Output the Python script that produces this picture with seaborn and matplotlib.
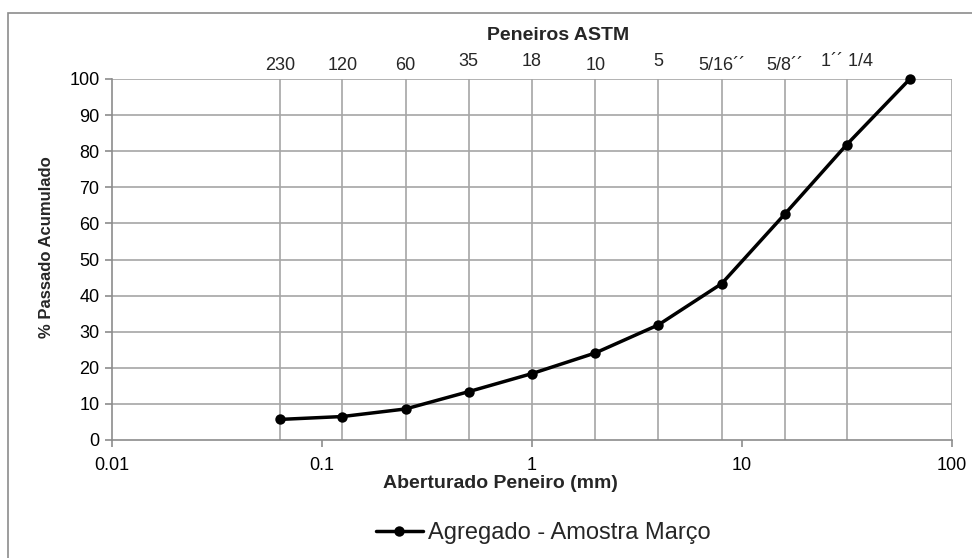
import matplotlib
matplotlib.use("Agg")
import matplotlib.pyplot as plt
import matplotlib.transforms as mtransforms
import seaborn as sns
import pandas as pd
from matplotlib.patches import Rectangle
from matplotlib.ticker import FixedLocator, NullLocator

# Sieve openings (mm) and cumulative passing (%)
abertura = [0.063, 0.125, 0.25, 0.5, 1.0, 2.0, 4.0, 8.0, 16.0, 31.5, 63.0]
passado = [5.7, 6.5, 8.6, 13.4, 18.4, 24.1, 31.9, 43.3, 62.6, 81.8, 100.0]

# ASTM sieve designations shown above the plot
peneiros_pos = [0.063, 0.125, 0.25, 0.5, 1.0, 2.0, 4.0, 8.0, 16.0, 31.5]
peneiros_lbl = ["230", "120", "60", "35", "18", "10", "5", "5/16´´", "5/8´´", "1´´ 1/4"]
peneiros_alto = [False, False, False, True, True, False, True, False, False, True]

serie = "Agregado - Amostra Março"

sns.set_theme(style="white")
plt.rcParams["font.family"] = ["Liberation Sans", "DejaVu Sans"]

fig = plt.figure(figsize=(9.72, 5.58), dpi=100)
ax = fig.add_axes([112 / 972, 1 - 440 / 558, 840 / 972, 361 / 558])

df = pd.DataFrame({"x": abertura, "y": passado, "s": serie})
sns.lineplot(data=df, x="x", y="y", hue="s", palette=["black"], marker="o",
             markersize=7.5, linewidth=2.5, markeredgewidth=0, ax=ax)
for ln in ax.lines:
    ln.set_clip_on(False)
    ln.set_zorder(5)

ax.set_xscale("log")
ax.set_xlim(0.01, 100)
ax.set_ylim(0, 100)
ax.set_yticks(range(0, 101, 10))
ax.xaxis.set_major_locator(FixedLocator([0.01, 0.1, 1, 10, 100]))
ax.xaxis.set_minor_locator(NullLocator())
ax.set_xticklabels(["0.01", "0.1", "1", "10", "100"])

grid_col = "#a6a6a6"
for y in range(10, 101, 10):
    ax.axhline(y, color=grid_col, lw=1.2, zorder=0)
for x in peneiros_pos + [100]:
    ax.axvline(x, color=grid_col, lw=1.2, zorder=0)

for side in ["top", "right"]:
    ax.spines[side].set_visible(False)
for side in ["left", "bottom"]:
    ax.spines[side].set_color("#8c8c8c")
    ax.spines[side].set_linewidth(1.2)

ax.tick_params(axis="both", which="major", direction="out", length=5, width=1.2,
               color="#8c8c8c", labelsize=13, labelcolor="black", pad=4,
               left=True, bottom=True)
ax.tick_params(axis="x", pad=7)

ax.set_xlabel("Aberturado Peneiro (mm)", fontsize=14, fontweight="bold")
ax.xaxis.set_label_coords((500 - 112) / 840, (440 - 484) / 361)
ax.xaxis.label.set_va("center")
ax.set_ylabel("% Passado Acumulado", fontsize=12, fontweight="bold")
ax.yaxis.set_label_coords((47 - 112) / 840, (440 - 247) / 361)
ax.yaxis.label.set_ha("center")
ax.yaxis.label.set_va("center")

# ASTM sieve numbers above each grid line (alternating heights)
topo = mtransforms.blended_transform_factory(ax.transData, fig.transFigure)
for pos, lbl, alto in zip(peneiros_pos, peneiros_lbl, peneiros_alto):
    yy = 1 - (61 if alto else 66) / 558
    ax.text(pos, yy, lbl, transform=topo, ha="center", va="center", fontsize=13)
fig.text(558 / 972, 1 - 35 / 558, "Peneiros ASTM", ha="center", va="center",
         fontsize=14, fontweight="bold")

# Legend below the plot
handles, labels = ax.get_legend_handles_labels()
ax.legend(handles, labels, loc="center", bbox_to_anchor=(543 / 972, 1 - 533 / 558),
          bbox_transform=fig.transFigure, frameon=False, fontsize=17,
          handlelength=2.0, handletextpad=0.2, borderpad=0)

# Chart frame
fig.patches.append(Rectangle((8 / 972, -0.05), 1.0, 1 - 13 / 558 + 0.05,
                             transform=fig.transFigure, fill=False,
                             edgecolor="#8c8c8c", lw=1.2))

fig.savefig("out.png", dpi=100)
